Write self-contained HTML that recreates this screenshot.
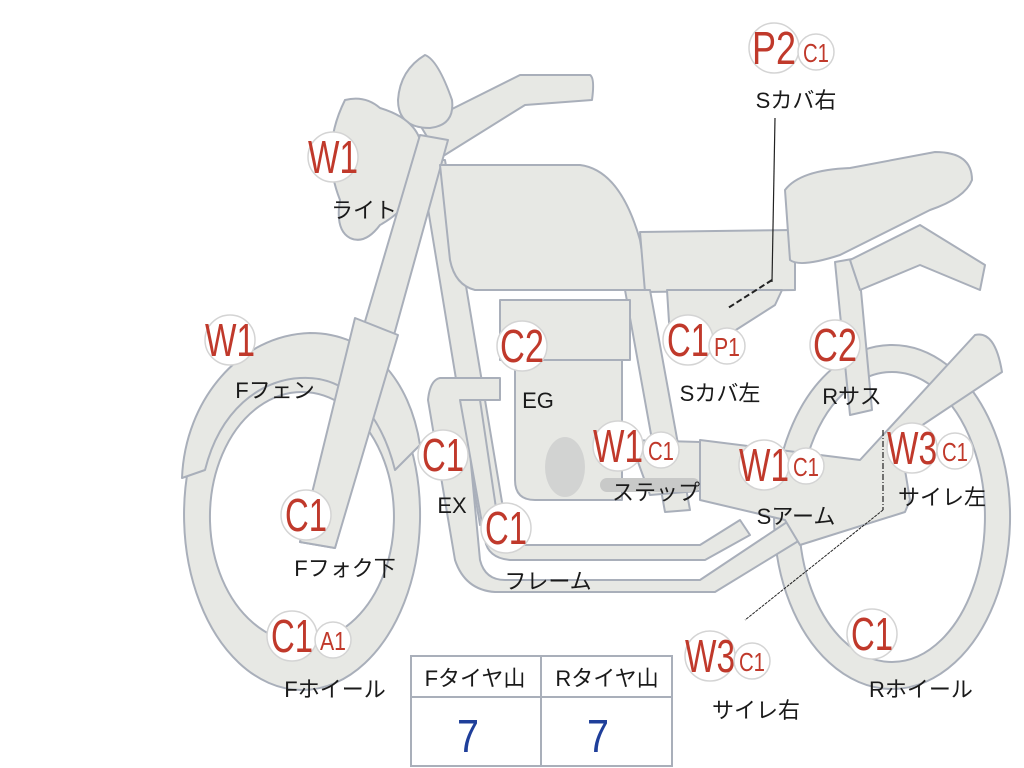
<!DOCTYPE html>
<html><head><meta charset="utf-8"><style>
html,body{margin:0;padding:0;background:#fff;width:1024px;height:768px;overflow:hidden}
svg{display:block}
.p{fill:#e7e8e4;stroke:#a9afba;stroke-width:2;stroke-linejoin:round}
.lb{font-family:"Liberation Sans","Noto Sans CJK JP",sans-serif;font-size:22px;fill:#1a1a1a;text-anchor:middle}
.bg{font-family:"Liberation Sans","Noto Sans CJK JP",sans-serif;font-size:46px;fill:#c0392b;text-anchor:middle}
.sm{font-family:"Liberation Sans","Noto Sans CJK JP",sans-serif;font-size:26px;fill:#c0392b;text-anchor:middle}
.c{fill:#fff;stroke:#d4d4d4;stroke-width:1.5}
</style></head><body>
<svg width="1024" height="768" viewBox="0 0 1024 768" xmlns="http://www.w3.org/2000/svg">
<path class="p" fill-rule="evenodd" d="M302,340 A118,175 0 1,0 302.1,340 Z M302,392 A92,125 0 1,1 301.9,392 Z"/>
<path class="p" fill-rule="evenodd" d="M892,345 A118,172 0 1,0 892.1,345 Z M892,372 A93,145 0 1,1 891.9,372 Z"/>
<path class="p" d="M182,478 C185,400 240,335 310,333 C370,333 410,380 420,445 L395,470 C380,410 345,375 300,378 C260,380 220,410 205,470 Z"/>
<path class="p" d="M420,125 L520,75 L590,75 Q595,78 592,100 L525,105 L440,158 Z"/>
<path class="p" d="M425,55 Q438,60 452,100 Q455,125 430,128 Q398,128 398,100 Q400,70 425,55 Z"/>
<path class="p" d="M345,100 Q365,95 380,108 Q420,120 422,150 Q425,200 380,225 Q365,245 350,238 Q335,230 340,200 Q320,150 345,100 Z"/>
<path class="p" d="M420,160 L445,160 L505,520 L480,525 Z"/>
<path class="p" d="M420,135 L448,140 L335,548 L300,542 Z"/>
<path class="p" d="M355,318 L398,335 L335,548 L300,542 Z"/>
<path class="p" d="M440,165 L580,165 Q620,170 640,240 L648,290 L475,290 Q455,285 450,260 Z"/>
<path class="p" d="M640,232 L795,230 L795,290 L645,292 Z"/>
<path class="p" d="M667,290 L782,290 L775,305 L728,335 L670,338 Z"/>
<path class="p" d="M835,262 L858,258 L872,410 L850,415 Z"/>
<path class="p" d="M850,260 L920,225 L985,265 L980,290 L920,265 L860,290 Z"/>
<path class="p" d="M785,190 Q800,170 850,168 L935,152 Q972,152 972,180 Q965,198 930,210 L840,255 Q800,268 790,260 Z"/>
<path class="p" d="M625,290 L650,290 L690,510 L665,512 Z"/>
<path class="p" d="M515,360 L622,360 L622,500 L535,500 Q515,500 515,480 Z"/>
<path class="p" d="M500,300 L630,300 L630,360 L500,360 Z"/>
<ellipse cx="565" cy="467" rx="20" ry="30" fill="#d2d3d2"/>
<path class="p" d="M440,378 L500,378 L500,400 L465,400 L480,560 Q485,580 505,580 L700,580 L790,520 L800,540 L715,592 L495,592 Q465,590 455,560 L428,400 Q430,380 440,378 Z"/>
<path class="p" d="M460,400 L480,400 L500,535 Q505,545 520,545 L700,545 L740,520 L750,535 L705,560 L510,560 Q488,558 485,540 Z"/>
<path class="p" d="M630,440 L700,442 L710,490 L650,495 Z"/>
<rect x="600" y="478" width="100" height="14" rx="7" fill="#c8c9c8"/>
<path class="p" d="M700,440 L860,460 L975,335 Q995,330 1002,372 L900,440 L910,500 L905,512 L800,545 L785,520 L700,500 Z"/>
<polyline points="775,118 772,282" fill="none" stroke="#222" stroke-width="1.2"/>
<line x1="772" y1="280" x2="728" y2="308" stroke="#222" stroke-width="2" stroke-dasharray="6,3"/>
<line x1="883" y1="430" x2="883" y2="510" stroke="#222" stroke-width="1.2" stroke-dasharray="6,2,1,2"/>
<line x1="883" y1="510" x2="745" y2="620" stroke="#222" stroke-width="1" stroke-dasharray="3,1"/>
<rect x="411" y="656" width="261" height="110" fill="#fff" stroke="#a9afba" stroke-width="2"/>
<line x1="411" y1="697" x2="672" y2="697" stroke="#a9afba" stroke-width="2"/>
<line x1="541" y1="656" x2="541" y2="766" stroke="#a9afba" stroke-width="2"/>
<text class="lb" x="475" y="686">Fタイヤ山</text>
<text class="lb" x="607" y="686">Rタイヤ山</text>
<text x="468" y="752" font-family="Liberation Sans,sans-serif" font-size="46" fill="#1f3f9a" text-anchor="middle" textLength="22" lengthAdjust="spacingAndGlyphs">7</text>
<text x="598" y="752" font-family="Liberation Sans,sans-serif" font-size="46" fill="#1f3f9a" text-anchor="middle" textLength="22" lengthAdjust="spacingAndGlyphs">7</text>
<g>
<circle class="c" cx="774" cy="48" r="25"/><text class="bg" x="774" y="64" textLength="44" lengthAdjust="spacingAndGlyphs">P2</text>
<circle class="c" cx="816" cy="52" r="18"/><text class="sm" x="816" y="62" textLength="26" lengthAdjust="spacingAndGlyphs">C1</text>
<text class="lb" x="796" y="108">Sカバ右</text>

<circle class="c" cx="333" cy="157" r="25"/><text class="bg" x="333" y="173" textLength="50" lengthAdjust="spacingAndGlyphs">W1</text>
<text class="lb" x="364" y="218">ライト</text>

<circle class="c" cx="230" cy="340" r="25"/><text class="bg" x="230" y="356" textLength="50" lengthAdjust="spacingAndGlyphs">W1</text>
<text class="lb" x="275" y="398">Fフェン</text>

<circle class="c" cx="522" cy="346" r="25"/><text class="bg" x="522" y="362" textLength="44" lengthAdjust="spacingAndGlyphs">C2</text>
<text class="lb" x="538" y="408">EG</text>

<circle class="c" cx="688" cy="340" r="25"/><text class="bg" x="688" y="356" textLength="42" lengthAdjust="spacingAndGlyphs">C1</text>
<circle class="c" cx="727" cy="346" r="18"/><text class="sm" x="727" y="356" textLength="26" lengthAdjust="spacingAndGlyphs">P1</text>
<text class="lb" x="720" y="401">Sカバ左</text>

<circle class="c" cx="835" cy="345" r="25"/><text class="bg" x="835" y="361" textLength="44" lengthAdjust="spacingAndGlyphs">C2</text>
<text class="lb" x="852" y="404">Rサス</text>

<circle class="c" cx="443" cy="455" r="25"/><text class="bg" x="443" y="471" textLength="42" lengthAdjust="spacingAndGlyphs">C1</text>
<text class="lb" x="452" y="513">EX</text>

<circle class="c" cx="618" cy="446" r="25"/><text class="bg" x="618" y="462" textLength="50" lengthAdjust="spacingAndGlyphs">W1</text>
<circle class="c" cx="661" cy="450" r="18"/><text class="sm" x="661" y="460" textLength="26" lengthAdjust="spacingAndGlyphs">C1</text>
<text class="lb" x="656" y="500">ステップ</text>

<circle class="c" cx="764" cy="465" r="25"/><text class="bg" x="764" y="481" textLength="50" lengthAdjust="spacingAndGlyphs">W1</text>
<circle class="c" cx="806" cy="466" r="18"/><text class="sm" x="806" y="476" textLength="26" lengthAdjust="spacingAndGlyphs">C1</text>
<text class="lb" x="796" y="524">Sアーム</text>

<circle class="c" cx="912" cy="448" r="25"/><text class="bg" x="912" y="464" textLength="50" lengthAdjust="spacingAndGlyphs">W3</text>
<circle class="c" cx="955" cy="451" r="18"/><text class="sm" x="955" y="461" textLength="26" lengthAdjust="spacingAndGlyphs">C1</text>
<text class="lb" x="942" y="505">サイレ左</text>

<circle class="c" cx="306" cy="515" r="25"/><text class="bg" x="306" y="531" textLength="42" lengthAdjust="spacingAndGlyphs">C1</text>
<text class="lb" x="345" y="576">Fフォク下</text>

<circle class="c" cx="506" cy="528" r="25"/><text class="bg" x="506" y="544" textLength="42" lengthAdjust="spacingAndGlyphs">C1</text>
<text class="lb" x="548" y="589">フレーム</text>

<circle class="c" cx="292" cy="636" r="25"/><text class="bg" x="292" y="652" textLength="42" lengthAdjust="spacingAndGlyphs">C1</text>
<circle class="c" cx="333" cy="640" r="18"/><text class="sm" x="333" y="650" textLength="26" lengthAdjust="spacingAndGlyphs">A1</text>
<text class="lb" x="335" y="697">Fホイール</text>

<circle class="c" cx="872" cy="634" r="25"/><text class="bg" x="872" y="650" textLength="42" lengthAdjust="spacingAndGlyphs">C1</text>
<text class="lb" x="921" y="697">Rホイール</text>

<circle class="c" cx="710" cy="656" r="25"/><text class="bg" x="710" y="672" textLength="50" lengthAdjust="spacingAndGlyphs">W3</text>
<circle class="c" cx="752" cy="661" r="18"/><text class="sm" x="752" y="671" textLength="26" lengthAdjust="spacingAndGlyphs">C1</text>
<text class="lb" x="756" y="718">サイレ右</text>
</g>
</svg>
</body></html>
